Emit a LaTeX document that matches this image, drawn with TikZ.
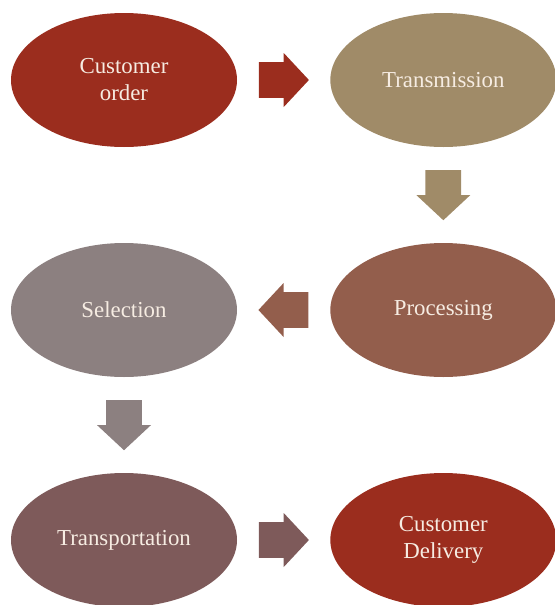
\documentclass[tikz,border=0pt]{standalone}
\usepackage{xcolor}
\usepackage{fontspec}
\setmainfont{Liberation Serif}
\usetikzlibrary{shapes.geometric,shapes.arrows,calc}

\definecolor{darkred}{RGB}{155,45,30}
\definecolor{tan}{RGB}{160,139,104}
\definecolor{rust}{RGB}{147,94,76}
\definecolor{greymauve}{RGB}{140,128,128}
\definecolor{mauve}{RGB}{126,90,90}
\definecolor{cream}{RGB}{246,236,226}

\tikzset{
  stage/.style={ellipse, fill=#1, minimum width=6.78cm, minimum height=4.02cm,
    inner sep=0pt, text=cream, align=center, font=\fontsize{19.5}{23}\selectfont},
  blockarrow/.style={single arrow, fill=#1, minimum height=1.5cm, minimum width=1.62cm,
    inner sep=0.48cm, single arrow tip angle=94, anchor=tail}
}

\begin{document}
\begin{tikzpicture}
\useasboundingbox (0,0) rectangle (16.62,-18.15);
\node[stage=darkred] (order) at (3.72,-2.4) {Customer\\order};
\node[stage=tan] (transmission) at (13.3,-2.4) {Transmission};
\node[stage=rust] (processing) at (13.3,-9.3) {Processing};
\node[stage=greymauve] (selection) at (3.72,-9.3) {Selection};
\node[stage=mauve] (transport) at (3.72,-16.2) {Transportation};
\node[stage=darkred] (delivery) at (13.3,-16.2) {Customer\\Delivery};

% block arrows, tail 0.75cm before the midpoint
\node[blockarrow=darkred] (a1) at ($(order)!0.5!(transmission)!0.75cm!(order)$) {};
\node[blockarrow=tan, shape border rotate=270] (a2) at ($(transmission)!0.5!(processing)!0.75cm!(transmission)$) {};
\node[blockarrow=rust, shape border rotate=180] (a3) at ($(processing)!0.5!(selection)!0.75cm!(processing)$) {};
\node[blockarrow=greymauve, shape border rotate=270] (a4) at ($(selection)!0.5!(transport)!0.75cm!(selection)$) {};
\node[blockarrow=mauve] (a5) at ($(transport)!0.5!(delivery)!0.75cm!(transport)$) {};
\end{tikzpicture}
\end{document}
